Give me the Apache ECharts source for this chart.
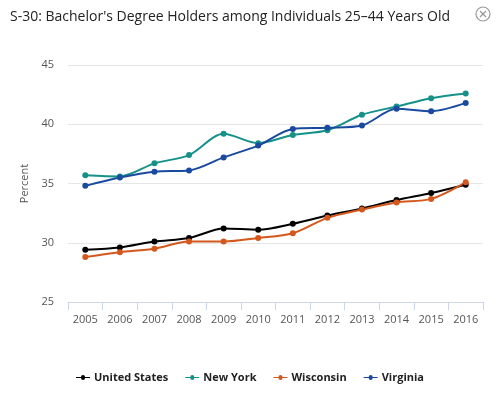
<!DOCTYPE html>
<html><head><meta charset="utf-8">
<script src="https://cdn.jsdelivr.net/npm/echarts@6/dist/echarts.min.js"></script>
<style>html,body{margin:0;padding:0;background:#fff}#c{width:500px;height:393px}</style>
</head><body><div id="c"></div>
<script>
const titleText = "S-30: Bachelor's Degree Holders among Individuals 25\u201344 Years Old";
const years = ["2005","2006","2007","2008","2009","2010","2011","2012","2013","2014","2015","2016"];
const unitedStates = [29.4,29.6,30.1,30.4,31.2,31.1,31.6,32.3,32.9,33.6,34.2,34.9];
const newYork      = [35.7,35.6,36.7,37.4,39.2,38.4,39.1,39.5,40.8,41.5,42.2,42.6];
const wisconsin    = [28.8,29.2,29.5,30.1,30.1,30.4,30.8,32.1,32.8,33.4,33.7,35.1];
const virginia     = [34.8,35.5,36.0,36.1,37.2,38.2,39.6,39.7,39.9,41.3,41.1,41.8];
const seriesNames = ["United States","New York","Wisconsin","Virginia"];
const colors = ["#000000","#15918a","#d4581c","#1a4aa0"];
const yTicks = {min:25,max:45,interval:5};

const font = "'Open Sans', sans-serif";
const chart = echarts.init(document.getElementById('c'));
const data = [unitedStates,newYork,wisconsin,virginia];
chart.setOption({
  animation:false,
  textStyle:{fontFamily:font},
  title:{text:titleText,left:5,top:5,textStyle:{fontSize:14,fontWeight:'normal',color:'#222',fontFamily:font}},
  grid:{left:68,right:17,top:65,bottom:91},
  legend:{bottom:5,left:'center',itemWidth:14,itemHeight:6,itemGap:17,
    textStyle:{fontWeight:'bold',fontSize:11,color:'#222',fontFamily:font,padding:[0,0,0,-1]},
    data:seriesNames.map(n=>({name:n,icon:'path://M0,2.5L5,2.5A2,2,0,1,1,9,2.5L14,2.5L14,3.5L9,3.5A2,2,0,1,1,5,3.5L0,3.5Z'}))},
  xAxis:{type:'category',data:years,boundaryGap:true,
    axisLine:{lineStyle:{color:'#ccd6eb'}},
    axisTick:{show:true,length:8,lineStyle:{color:'#ccd6eb'}},
    axisLabel:{color:'#555',fontSize:11,margin:12}},
  yAxis:{type:'value',min:yTicks.min,max:yTicks.max,interval:yTicks.interval,
    name:'Percent',nameLocation:'middle',nameGap:33,nameTextStyle:{color:'#555',fontSize:11},
    axisLine:{show:false},axisTick:{show:false},
    axisLabel:{color:'#555',fontSize:11,margin:14},
    splitLine:{lineStyle:{color:'#e6e6e6'}}},
  series:seriesNames.map((n,i)=>({name:n,type:'line',data:data[i],smooth:0.3,
    symbol:'circle',symbolSize:6,color:colors[i],lineStyle:{width:2}})),
  graphic:[
    {type:'circle',shape:{cx:483,cy:14,r:7},style:{fill:'none',stroke:'#999',lineWidth:1.2}},
    {type:'line',shape:{x1:480,y1:11,x2:486,y2:17},style:{stroke:'#999',lineWidth:1.2}},
    {type:'line',shape:{x1:486,y1:11,x2:480,y2:17},style:{stroke:'#999',lineWidth:1.2}}
  ]
});
</script></body></html>
